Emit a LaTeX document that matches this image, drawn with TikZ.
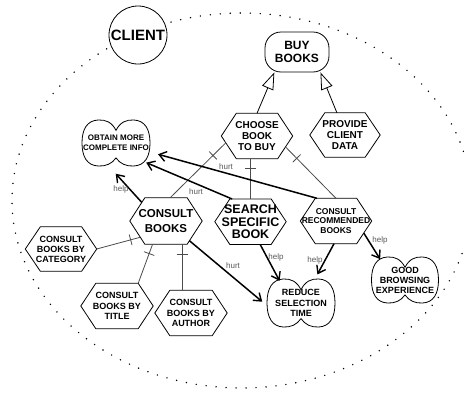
\documentclass[tikz,border=0pt]{standalone}
\usepackage{fontspec}
\setmainfont{Liberation Sans}
\usetikzlibrary{shapes.geometric,arrows.meta,decorations.markings,calc}
\tikzset{
 hexnode/.style={rectangle, inner sep=0pt, minimum width=71pt, minimum height=45pt, align=center, font=\bfseries},
 hexline/.style={draw, line width=0.8pt, line join=miter},
 sgnode/.style={ellipse, inner sep=0pt, align=center, font=\bfseries\fontsize{9}{10.5}\selectfont},
 decomp/.style={draw=black!70, line width=0.8pt},
 tick/.style={decoration={markings, mark=at position #1 with {\draw[black!70, line width=0.8pt] (0,-5.5pt) -- (0,5.5pt);}}, postaction={decorate}},
 contrib/.style={draw, line width=1.5pt, -{Straight Barb[length=7pt,width=10pt,line width=1.4pt]}},
 meansend/.style={draw, line width=0.8pt, -{Triangle[open,length=17pt,width=12pt,line width=0.8pt]}},
 lab/.style={font=\fontsize{8}{9}\selectfont, text=black!65, inner sep=0pt},
}
\newcommand\hexpath[1]{%
 \draw[hexline] (#1.west) -- ([xshift=15pt]#1.north west) -- ([xshift=-15pt]#1.north east) -- (#1.east) -- ([xshift=-15pt]#1.south east) -- ([xshift=15pt]#1.south west) -- cycle;}
\newcommand\sgpath[3]{%
 \begin{scope}[shift={(#1.center)}]
 \draw[line width=0.8pt] (0,-0.55*#3) .. controls (-0.12*#2,-0.9*#3) and (-0.3*#2,-1.02*#3) .. (-0.52*#2,-#3) .. controls (-0.85*#2,-0.98*#3) and (-#2,-0.6*#3) .. (-#2,0) .. controls (-#2,0.6*#3) and (-0.85*#2,0.98*#3) .. (-0.52*#2,#3) .. controls (-0.3*#2,1.02*#3) and (-0.12*#2,0.9*#3) .. (0,0.65*#3) .. controls (0.12*#2,0.9*#3) and (0.3*#2,1.02*#3) .. (0.52*#2,#3) .. controls (0.85*#2,0.98*#3) and (#2,0.6*#3) .. (#2,0) .. controls (#2,-0.6*#3) and (0.85*#2,-0.98*#3) .. (0.52*#2,-#3) .. controls (0.3*#2,-1.02*#3) and (0.12*#2,-0.9*#3) .. cycle;
 \end{scope}}
\begin{document}
\begin{tikzpicture}[x=1pt,y=-1pt]
\useasboundingbox (0,0) rectangle (464,394);
\fill[white] (0,0) rectangle (464,394);
% actor boundary
\draw[dash pattern=on 0pt off 10pt, line cap=round, line width=1.6pt] (241.7,200.5) ellipse [x radius=229.7pt, y radius=187.5pt];
\node[circle, draw, fill=white, line width=0.8pt, minimum size=58pt, inner sep=0pt, font=\bfseries\fontsize{15}{16}\selectfont] (client) at (138,35) {CLIENT};

% goal
\node[draw, line width=0.8pt, rounded corners=16pt, minimum width=64pt, minimum height=40pt, inner sep=0pt, align=center, font=\bfseries\fontsize{12}{13}\selectfont] (buy) at (297,52) {BUY\\BOOKS};

% tasks
\node[hexnode, font=\bfseries\fontsize{10}{10.7}\selectfont] (choose) at (257,136) {CHOOSE\\BOOK\\TO BUY};
\node[hexnode, minimum width=70pt, minimum height=44pt, font=\bfseries\fontsize{10}{10.7}\selectfont] (provide) at (345,135) {PROVIDE\\CLIENT\\DATA};
\node[hexnode, minimum width=72pt, minimum height=46pt, font=\bfseries\fontsize{11.5}{15}\selectfont] (consult) at (166,221) {CONSULT\\BOOKS};
\node[hexnode, font=\bfseries\fontsize{12.5}{12.5}\selectfont] (search) at (250.5,221.7) {SEARCH\\SPECIFIC\\BOOK};
\node[hexnode, font=\bfseries\fontsize{8.5}{9.5}\selectfont] (recommend) at (336,221) {CONSULT\\RECOMMENDED\\BOOKS};
\node[hexnode, minimum height=44pt, font=\bfseries\fontsize{9}{10}\selectfont] (category) at (61,249) {CONSULT\\BOOKS BY\\CATEGORY};
\node[hexnode, minimum width=72pt, font=\bfseries\fontsize{9}{10.5}\selectfont] (title) at (117,306) {CONSULT\\BOOKS BY\\TITLE};
\node[hexnode, minimum width=72pt, font=\bfseries\fontsize{9}{10.5}\selectfont] (author) at (191,313) {CONSULT\\BOOKS BY\\AUTHOR};
\hexpath{choose}\hexpath{provide}\hexpath{consult}\hexpath{search}\hexpath{recommend}\hexpath{category}\hexpath{title}\hexpath{author}

% softgoals
\node[sgnode, minimum width=74pt, minimum height=51pt, font=\bfseries\fontsize{8}{10}\selectfont] (obtain) at (116,143) {OBTAIN MORE\\COMPLETE INFO};
\sgpath{obtain}{34}{23}
\node[sgnode, minimum width=74pt, minimum height=54pt] (reduce) at (301,303) {REDUCE\\SELECTION\\TIME};
\sgpath{reduce}{34}{24}
\node[sgnode, minimum width=73pt, minimum height=52pt, font=\bfseries\fontsize{9}{10}\selectfont] (good) at (405,280) {GOOD\\BROWSING\\EXPERIENCE};
\sgpath{good}{33.5}{23}

% means-end links
\draw[meansend] (choose.north) -- (buy.222);
\draw[meansend] (provide.110) -- (buy.-41);

% decomposition links
\draw[decomp, tick=10pt] (search.north |- choose.south) -- (search.north);
\draw[decomp, tick=18pt] ($(choose.west)!0.3!([xshift=15pt]choose.south west)$) -- (consult.80);
\draw[decomp, tick=16pt] ($(choose.east)!0.48!([xshift=-15pt]choose.south east)$) -- (recommend.north);
\draw[decomp, tick=10pt] ($(consult.west)!0.7!([xshift=15pt]consult.south west)$) -- (category.east);
\draw[decomp, tick=10pt] (consult.240) -- ([xshift=-15pt]title.north east);
\draw[decomp, tick=10pt] (consult.-55) -- (consult.-55 |- author.north);

% contributions
\draw[contrib, shorten >=7pt] ($(consult.west)!0.8!([xshift=15pt]consult.north west)$) -- (obtain.259);
\draw[contrib] (search.129) -- (obtain.-33);
\draw[contrib] (recommend.130) -- (obtain.-15);
\draw[contrib, shorten >=2pt] ($(consult.east)!0.85!([xshift=-15pt]consult.south east)$) -- (reduce.180);
\draw[contrib] (search.-67) -- (reduce.134);
\draw[contrib, shorten >=4pt] (recommend.-95) -- (reduce.60);
\draw[contrib] ($(recommend.east)!0.53!([xshift=-15pt]recommend.south east)$) -- (good.140);

% labels
\node[lab] (l1) at (121,189) {help};
\node[lab] (l2) at (196,192) {hurt};
\node[lab] (l3) at (226,167) {hurt};
\node[lab] (l4) at (233,266) {hurt};
\node[lab] (l5) at (276,257) {help};
\node[lab] (l6) at (315,260) {help};
\node[lab] (l7) at (380,240.5) {help};
\end{tikzpicture}
\end{document}
